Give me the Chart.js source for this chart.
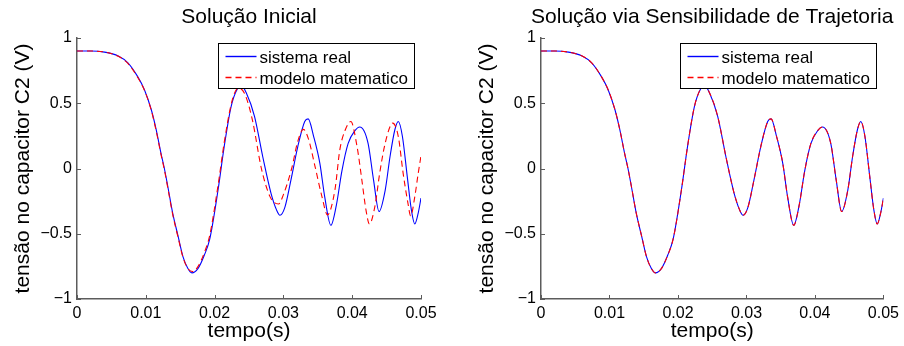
<!DOCTYPE html>
<html lang="pt">
<head>
<meta charset="UTF-8" />
<title>Tensão no capacitor C2</title>
<script src="https://cdn.jsdelivr.net/npm/chart.js"></script>
<style>
  html, body { margin: 0; padding: 0; background: #fff; }
  .container { display: flex; width: 904px; height: 346px; }
  .chart { width: 452px; height: 346px; }
</style>
</head>
<body>
<div class="container">
  <div class="chart"><canvas id="inicialChart" width="452" height="346"></canvas></div>
  <div class="chart"><canvas id="sensibilidadeChart" width="452" height="346"></canvas></div>
</div>

<script>
// dados
const tReal = [0, 0.002, 0.004, 0.006, 0.0074, 0.0088, 0.0098, 0.0108, 0.0115, 0.0122,
  0.0127, 0.0132, 0.0139, 0.0147, 0.0154, 0.0161, 0.0167, 0.0176, 0.0185, 0.0193,
  0.0205, 0.0214, 0.0224, 0.0233, 0.0239, 0.0246, 0.0258, 0.0270, 0.0282, 0.0290,
  0.0295, 0.0302, 0.0311, 0.0321, 0.0331, 0.0336, 0.0344, 0.0353, 0.0360, 0.0369,
  0.0377, 0.0385, 0.0394, 0.0404, 0.0411, 0.0423, 0.0431, 0.0439, 0.0448, 0.0455,
  0.0462, 0.0467, 0.0473, 0.0480, 0.0486, 0.0491, 0.0496, 0.05];
const vReal = [0.9, 0.9, 0.892, 0.862, 0.81, 0.706, 0.604, 0.45, 0.30, 0.118,
  0, -0.138, -0.34, -0.52, -0.675, -0.765, -0.80, -0.765, -0.665, -0.54,
  -0.165, 0.17, 0.475, 0.61, 0.635, 0.58, 0.40, 0.09, -0.19, -0.317,
  -0.358, -0.30, -0.087, 0.17, 0.36, 0.38, 0.245, 0.04, -0.215, -0.435,
  -0.28, -0.02, 0.19, 0.29, 0.318, 0.195, -0.087, -0.33, -0.165, 0.092,
  0.297, 0.36, 0.245, -0.06, -0.317, -0.425, -0.34, -0.227];

const tModelo = [0, 0.002, 0.004, 0.006, 0.0074, 0.0088, 0.0098, 0.0108, 0.0115, 0.0122,
  0.0127, 0.0132, 0.0139, 0.0147, 0.0154, 0.0161, 0.0168, 0.0176, 0.0185, 0.0193,
  0.0205, 0.0214, 0.0224, 0.0231, 0.0236, 0.0244, 0.0255, 0.0268, 0.0280, 0.0287,
  0.0293, 0.0300, 0.0312, 0.0321, 0.0329, 0.0336, 0.0346, 0.0356, 0.0364, 0.0375,
  0.0382, 0.0390, 0.0398, 0.0407, 0.0414, 0.0420, 0.0425, 0.0433, 0.0440, 0.0448,
  0.0459, 0.0467, 0.0474, 0.0481, 0.0485, 0.0491, 0.0496, 0.05];
const vModelo = [0.9, 0.9, 0.892, 0.86, 0.805, 0.70, 0.60, 0.445, 0.29, 0.11,
  -0.01, -0.15, -0.35, -0.53, -0.68, -0.765, -0.79, -0.75, -0.645, -0.51,
  -0.13, 0.20, 0.49, 0.60, 0.615, 0.57, 0.37, 0.0, -0.21, -0.262,
  -0.272, -0.20, 0.0, 0.21, 0.30, 0.233, 0.015, -0.215, -0.355, -0.16,
  0.143, 0.297, 0.36, 0.17, -0.087, -0.317, -0.425, -0.29, -0.035, 0.195,
  0.348, 0.245, -0.035, -0.265, -0.363, -0.215, -0.035, 0.097];

// modelo ajustado coincide com o sistema real
const tAjustado = tReal;
const vAjustado = vReal;

const xTickValues = [0, 0.01, 0.02, 0.03, 0.04, 0.05];
const xTickLabels = ["0", "0.01", "0.02", "0.03", "0.04", "0.05"];
const yTickValues = [-1, -0.5, 0, 0.5, 1];
const yTickLabels = ["\u22121", "\u22120.5", "0", "0.5", "1"];

const legendLabels = ["sistema real", "modelo matematico"];
const titulos = ["Solução Inicial", "Solução via Sensibilidade de Trajetoria"];

const FONTE = "'Liberation Sans', Arial, Helvetica, sans-serif";
const AZUL = "#0000ff";
const VERMELHO = "#ff0000";

function pares(t, v) {
  return t.map((x, i) => ({ x: x, y: v[i] }));
}

// titulo, legenda e marcas de escala para dentro (estilo matlab)
const estiloMatlab = {
  id: "estiloMatlab",
  afterDraw(chart, args, opts) {
    const ctx = chart.ctx;
    const area = chart.chartArea;
    const xs = chart.scales.x;
    const ys = chart.scales.y;

    ctx.save();
    ctx.strokeStyle = "#5c5c5c";
    ctx.lineWidth = 1;
    xs.ticks.forEach(t => {
      const px = Math.round(xs.getPixelForValue(t.value)) + 0.5;
      ctx.beginPath();
      ctx.moveTo(px, area.bottom);
      ctx.lineTo(px, area.bottom - 4);
      ctx.stroke();
    });
    ys.ticks.forEach(t => {
      const py = Math.round(ys.getPixelForValue(t.value)) + 0.5;
      ctx.beginPath();
      ctx.moveTo(area.left, py);
      ctx.lineTo(area.left + 4, py);
      ctx.stroke();
    });

    // titulo
    ctx.fillStyle = "#000";
    ctx.font = "21px " + FONTE;
    ctx.textAlign = "center";
    ctx.textBaseline = "alphabetic";
    ctx.fillText(opts.titulo, (area.left + area.right) / 2, 23);

    // legenda
    const bw = 196, bh = 45;
    const bx = Math.round(area.right - 7.5 - bw) + 0.5;
    const by = Math.round(area.top + 5) + 0.5;
    ctx.fillStyle = "#fff";
    ctx.fillRect(bx, by, bw, bh);
    ctx.strokeStyle = "#000";
    ctx.lineWidth = 1;
    ctx.strokeRect(bx, by, bw, bh);

    ctx.font = "17px " + FONTE;
    ctx.textAlign = "left";
    const linhas = [by + 13, by + 34];
    const tracos = [[], [6, 4]];
    const cores = [AZUL, VERMELHO];
    legendLabels.forEach((txt, i) => {
      ctx.strokeStyle = cores[i];
      ctx.lineWidth = 1.4;
      ctx.setLineDash(tracos[i]);
      ctx.beginPath();
      ctx.moveTo(bx + 7, linhas[i]);
      ctx.lineTo(bx + 38, linhas[i]);
      ctx.stroke();
      ctx.setLineDash([]);
      ctx.fillStyle = "#000";
      ctx.fillText(txt, bx + 41, linhas[i] + 6);
    });
    ctx.restore();
  }
};

function criarGrafico(id, titulo, dadosModelo, larguraY, padDireita) {
  const ctx = document.getElementById(id).getContext("2d");
  return new Chart(ctx, {
    type: "line",
    data: {
      datasets: [
        {
          label: legendLabels[0],
          data: pares(tReal, vReal),
          borderColor: AZUL,
          borderWidth: 1.1,
          pointRadius: 0,
          cubicInterpolationMode: "monotone",
          fill: false,
          order: 2,
        },
        {
          label: legendLabels[1],
          data: dadosModelo,
          borderColor: VERMELHO,
          borderWidth: 1.1,
          borderDash: [6, 4],
          pointRadius: 0,
          cubicInterpolationMode: "monotone",
          fill: false,
          order: 1,
        },
      ],
    },
    options: {
      responsive: false,
      animation: false,
      layout: { padding: { left: 0, right: padDireita, top: 38, bottom: 0 } },
      plugins: {
        legend: { display: false },
        tooltip: { enabled: false },
        estiloMatlab: { titulo: titulo },
      },
      scales: {
        x: {
          type: "linear",
          min: 0,
          max: 0.05,
          afterBuildTicks: s => { s.ticks = xTickValues.map(v => ({ value: v })); },
          afterFit: s => { s.height = 47; },
          grid: { display: false, drawTicks: false },
          border: { display: true, color: "#5c5c5c", width: 1.5 },
          ticks: {
            autoSkip: false,
            maxRotation: 0,
            padding: 5,
            color: "#000",
            font: { family: FONTE, size: 16 },
            callback: (v, i) => xTickLabels[i],
          },
          title: {
            display: true,
            text: "tempo(s)",
            color: "#000",
            font: { family: FONTE, size: 21 },
            padding: { top: 0, bottom: 2 },
          },
        },
        y: {
          min: -1,
          max: 1,
          afterBuildTicks: s => { s.ticks = yTickValues.map(v => ({ value: v })); },
          afterFit: s => { s.width = larguraY; },
          grid: { display: false, drawTicks: false },
          border: { display: true, color: "#5c5c5c", width: 1.5 },
          ticks: {
            autoSkip: false,
            padding: 5,
            color: "#000",
            font: { family: FONTE, size: 16 },
            callback: (v, i) => yTickLabels[i],
          },
          title: {
            display: true,
            text: "tensão no capacitor C2 (V)",
            color: "#000",
            font: { family: FONTE, size: 21 },
            padding: { top: larguraY - 66, bottom: 0 },
          },
        },
      },
    },
    plugins: [estiloMatlab],
  });
}

// Solução Inicial
let graficoInicial = criarGrafico("inicialChart", titulos[0], pares(tModelo, vModelo), 77, 31);

// Solução via Sensibilidade de Trajetoria
let graficoSensibilidade = criarGrafico("sensibilidadeChart", titulos[1], pares(tAjustado, vAjustado), 89, 20);
</script>
</body>
</html>
